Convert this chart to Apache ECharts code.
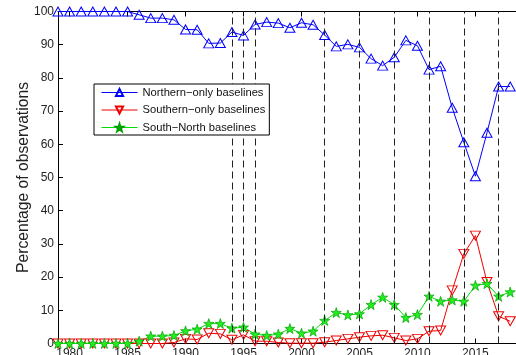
<!DOCTYPE html>
<html>
<head>
<meta charset="utf-8">
<script src="https://cdn.jsdelivr.net/npm/echarts@6/dist/echarts.min.js"></script>
<style>
  html, body { margin: 0; padding: 0; background: #fff; }
  #chart { width: 516px; height: 355px; }
</style>
</head>
<body>
<div id="chart"></div>
<script>
// Observation years
const years = [1979, 1980, 1981, 1982, 1983, 1984, 1985, 1986, 1987, 1988,
               1989, 1990, 1991, 1992, 1993, 1994, 1995, 1996, 1997, 1998,
               1999, 2000, 2001, 2002, 2003, 2004, 2005, 2006, 2007, 2008,
               2009, 2010, 2011, 2012, 2013, 2014, 2015, 2016, 2017, 2018];

// Share of observations (%) by baseline type
const northernOnly = [100, 100, 100, 100, 100, 100, 100, 99, 98, 98,
                      97.5, 94.6, 94.5, 90.4, 90.5, 93.8, 92.8, 96.1, 96.8, 96.5,
                      95.1, 96.6, 96, 92.9, 89.5, 90.1, 89.2, 85.8, 83.7, 86.2,
                      91.3, 89.7, 82.5, 83.5, 71, 60.6, 50.4, 63.5, 77.4, 77.4];
const southernOnly = [0, 0, 0, 0, 0, 0, 0, 0, 0, 0,
                      0.3, 1.4, 1.2, 3.1, 2.9, 1.1, 2.6, 0.7, 0.7, 0.3,
                      0.1, 0.1, 0.1, 0.4, 0.9, 1.4, 1.9, 2.3, 2.5, 1.7,
                      0.9, 1.4, 3.7, 3.9, 16, 27, 32.5, 18.5, 8.2, 6.7];
const southNorth   = [0, 0, 0, 0, 0, 0, 0, 0.7, 2.2, 2.2,
                      2.4, 3.8, 4.3, 6, 6, 4.6, 4.9, 2.8, 2.4, 2.8,
                      4.5, 3.1, 3.7, 6.9, 9.3, 8.6, 8.9, 11.7, 13.9, 11.7,
                      7.8, 8.7, 14.2, 12.7, 13.1, 12.7, 17.5, 18, 14.2, 15.5];

// Years marked with vertical dashed lines
const eventYears = [1994, 1995, 1996, 2002, 2005, 2008, 2011, 2014, 2017];

// Axis ticks
const xTickYears = [1980, 1985, 1990, 1995, 2000, 2005, 2010, 2015];

const FONT = '"Liberation Sans", Arial, Helvetica, sans-serif';
const STAR = 'path://M50,0 L61.8,35.3 L99,35.3 L69,57.4 L80.4,93 L50,71 L19.6,93 L31,57.4 L1,35.3 L38.2,35.3 Z';

const pairs = vals => years.map((y, i) => [y, vals[i]]);

const chart = echarts.init(document.getElementById('chart'), null, { renderer: 'canvas' });

const xCommon = {
  type: 'value', min: 1979, max: 2018.5,
  axisLine: { show: true, onZero: false, lineStyle: { color: '#000', width: 1 } },
  axisTick: { show: true, inside: true, length: 5, customValues: xTickYears, lineStyle: { color: '#000' } },
  splitLine: { show: false }
};

chart.setOption({
  animation: false,
  backgroundColor: '#fff',
  textStyle: { fontFamily: FONT },
  grid: { left: 58, top: 11.5, right: 0, bottom: 11.5, containLabel: false, outerBoundsMode: 'none' },
  xAxis: [
    Object.assign({}, xCommon, {
      position: 'bottom',
      axisLabel: {
        customValues: xTickYears, fontSize: 12, color: '#222', margin: 4, fontFamily: FONT,
        formatter: v => String(v)
      }
    }),
    Object.assign({}, xCommon, {
      position: 'top',
      axisLabel: { show: false }
    })
  ],
  yAxis: {
    type: 'value', min: 0, max: 100, interval: 10,
    axisLine: { show: true, lineStyle: { color: '#000', width: 1 } },
    axisTick: { show: true, inside: true, length: 5, lineStyle: { color: '#000' } },
    axisLabel: { fontSize: 12, color: '#222', margin: 4, fontFamily: FONT },
    splitLine: { show: false },
    name: 'Percentage of observations',
    nameLocation: 'middle',
    nameGap: 26,
    nameMoveOverlap: false,
    nameTextStyle: { fontSize: 15.7, color: '#222', fontFamily: FONT }
  },
  legend: {
    left: 94, top: 84,
    z: 20,
    orient: 'vertical',
    itemWidth: 36, itemHeight: 9, itemGap: 6.5,
    padding: [3, 4, 2, 7],
    borderColor: '#000', borderWidth: 1,
    backgroundColor: '#fff',
    lineStyle: { width: 1 },
    textStyle: { fontSize: 11.2, color: '#111', fontFamily: FONT },
    data: ['Northern−only baselines', 'Southern−only baselines', 'South−North baselines']
  },
  series: [
    {
      name: 'Northern−only baselines', type: 'line',
      data: pairs(northernOnly),
      symbol: 'triangle', symbolSize: [10, 9],
      lineStyle: { color: '#0000ff', width: 1 },
      itemStyle: { color: 'rgba(255,255,255,0)', borderColor: '#0000ff', borderWidth: 1 },
      z: 3
    },
    {
      name: 'Southern−only baselines', type: 'line',
      data: pairs(southernOnly),
      symbol: 'triangle', symbolRotate: 180, symbolSize: [10, 9],
      lineStyle: { color: '#ee0000', width: 1 },
      itemStyle: { color: 'rgba(255,255,255,0)', borderColor: '#ee0000', borderWidth: 1 },
      z: 3
    },
    {
      name: 'South−North baselines', type: 'line',
      data: pairs(southNorth),
      symbol: STAR, symbolSize: 10,
      lineStyle: { color: '#00dd00', width: 1 },
      itemStyle: { color: '#22ee22', borderColor: '#00a000', borderWidth: 0.7 },
      z: 3
    },
    {
      name: 'events', type: 'line', data: [],
      markLine: {
        silent: true, symbol: 'none', animation: false,
        label: { show: false },
        lineStyle: { color: '#222', width: 1, type: [7, 4] },
        data: eventYears.map(y => ({ xAxis: y }))
      },
      z: 5
    }
  ]
});
</script>
</body>
</html>
